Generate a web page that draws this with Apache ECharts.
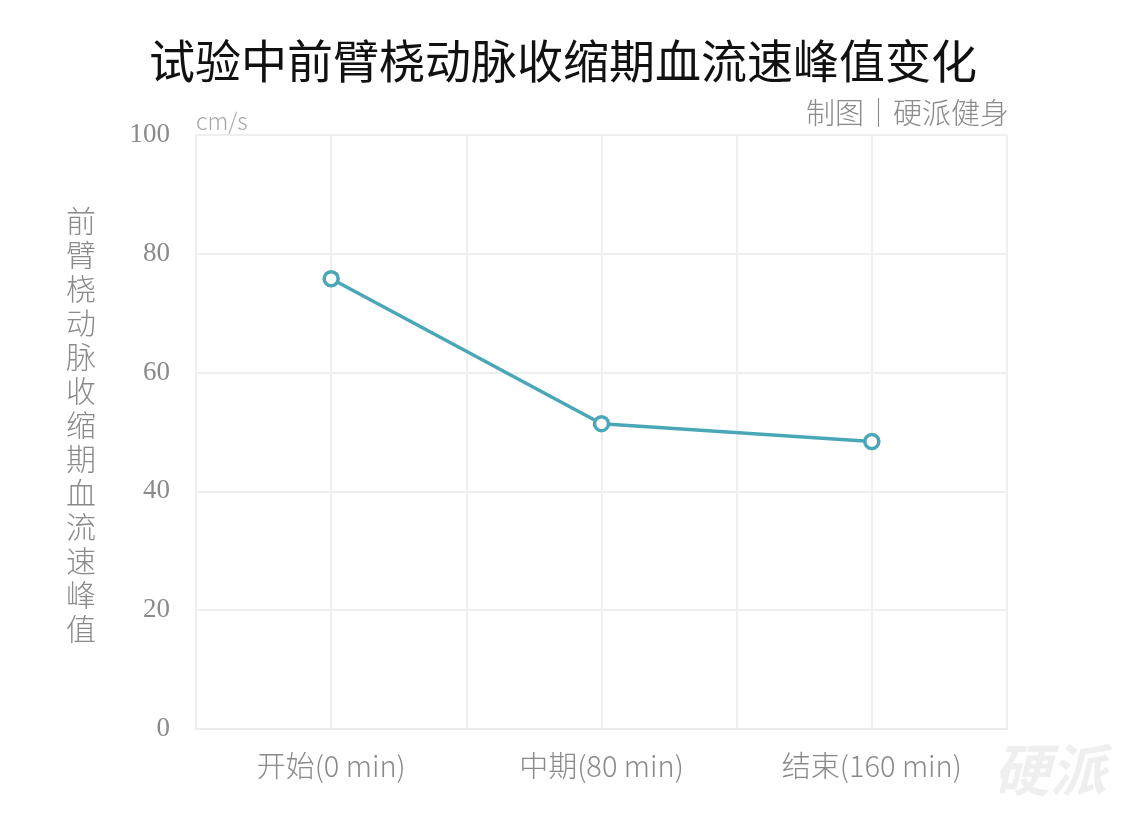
<!DOCTYPE html>
<html><head><meta charset="utf-8">
<script src="https://cdn.jsdelivr.net/npm/echarts@6/dist/echarts.min.js"></script>
<style>html,body{margin:0;padding:0;background:#fff}#c{width:1126px;height:818px}</style>
</head><body><div id="c"></div>
<script>
const categories = ['开始(0 min)', '中期(80 min)', '结束(160 min)'];
const values = [75.8, 51.4, 48.4];
const yTicks = [0, 20, 40, 60, 80, 100];
const titleText = '试验中前臂桡动脉收缩期血流速峰值变化';
const yName = '前臂桡动脉收缩期血流速峰值';
const credit = '制图｜硬派健身';
const unit = 'cm/s';

const chart = echarts.init(document.getElementById('c'));
const cjk = '"Noto Sans CJK SC", "Noto Sans", sans-serif';
chart.setOption({
  backgroundColor: '#fff',
  animation: false,
  grid: {left: 196, right: 119, top: 135, bottom: 89},
  title: {text: titleText, left: 'center', top: 33, textStyle: {fontFamily: cjk, fontSize: 46, fontWeight: 'normal', color: '#111'}},
  graphic: [
    {type: 'text', right: 117, top: 98, style: {text: credit, fontFamily: cjk, fontSize: 29, fontWeight: 300, fill: '#8a8a8a'}},
    {type: 'text', left: 196, top: 110, style: {text: unit, fontFamily: cjk, fontSize: 23, fontWeight: 300, fill: '#a8a8a8'}},
    {type: 'text', left: 66, top: 204, style: {text: yName.split('').join('\n'), fontFamily: cjk, fontSize: 30, fontWeight: 300, lineHeight: 34, fill: '#8a8a8a'}},
    {type: 'text', left: 994, top: 742, style: {text: '硬派', fontFamily: cjk, fontSize: 56, fontWeight: 'bold', fontStyle: 'italic', fill: '#efefef'}}
  ],
  xAxis: [
    {type: 'category', data: categories, boundaryGap: true,
     axisLine: {show: true, lineStyle: {color: '#ececec', width: 2}}, axisTick: {show: false},
     axisLabel: {fontFamily: cjk, fontSize: 29, fontWeight: 300, color: '#8a8a8a', margin: 22},
     splitLine: {show: true, lineStyle: {color: '#efefef', width: 2}}},
    {type: 'value', min: 0, max: categories.length * 2, interval: 1, show: true, position: 'bottom',
     axisLine: {show: false}, axisTick: {show: false}, axisLabel: {show: false},
     splitLine: {show: true, lineStyle: {color: '#efefef', width: 2}}}
  ],
  yAxis: {type: 'value', min: yTicks[0], max: yTicks[yTicks.length - 1], interval: 20,
    axisLine: {show: false}, axisTick: {show: false},
    axisLabel: {fontFamily: '"Liberation Serif", serif', fontSize: 27, color: '#8a8a8a', margin: 26},
    splitLine: {show: true, lineStyle: {color: '#efefef', width: 2}}},
  series: [{type: 'line', data: values, xAxisIndex: 0, symbol: 'circle', symbolSize: 14,
    lineStyle: {color: '#4aa7b7', width: 3.5},
    itemStyle: {color: '#ffffff', borderWidth: 3.5, borderColor: '#4aa7b7'}}]
});
</script></body></html>
